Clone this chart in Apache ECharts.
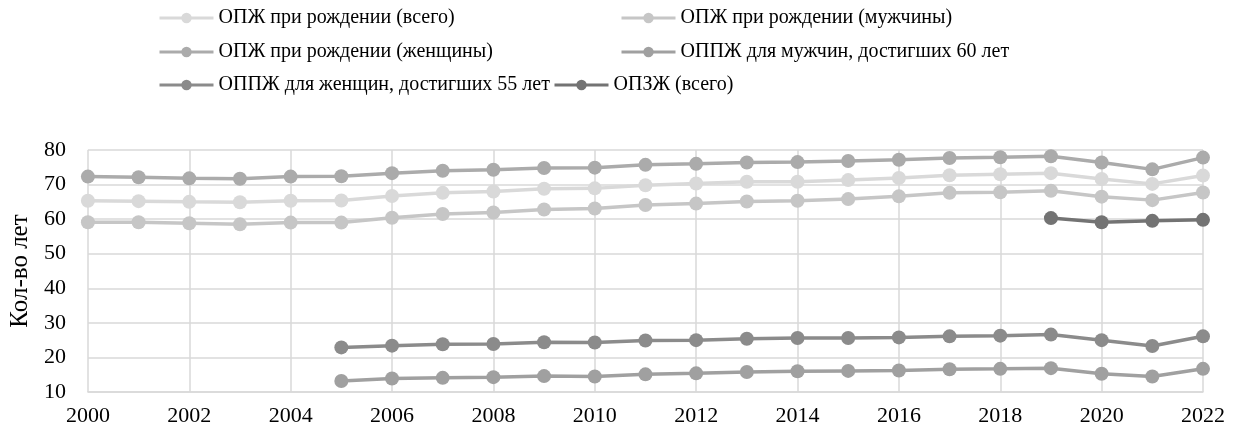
<!DOCTYPE html>
<html>
<head>
<meta charset="utf-8">
<script src="https://cdn.jsdelivr.net/npm/echarts@6/dist/echarts.min.js"></script>
<style>html,body{margin:0;padding:0;background:#fff}#c{width:1242px;height:432px}</style>
</head>
<body>
<div id="c"></div>
<script>
var years = ['2000','2001','2002','2003','2004','2005','2006','2007','2008','2009','2010','2011','2012','2013','2014','2015','2016','2017','2018','2019','2020','2021','2022'];
var seriesNames = ['ОПЖ при рождении (всего)','ОПЖ при рождении (мужчины)','ОПЖ при рождении (женщины)','ОППЖ для мужчин, достигших 60 лет','ОППЖ для женщин, достигших 55 лет','ОПЗЖ (всего)'];
var lifeTotal = [65.3,65.2,65.0,64.9,65.3,65.4,66.7,67.6,68.0,68.8,68.9,69.8,70.3,70.8,70.8,71.3,71.9,72.7,73.0,73.3,71.6,70.2,72.6];
var lifeMale = [59.1,59.1,58.8,58.5,59.0,59.0,60.4,61.5,61.9,62.8,63.1,64.1,64.5,65.1,65.3,65.8,66.6,67.6,67.8,68.2,66.5,65.5,67.7];
var lifeFemale = [72.3,72.1,71.8,71.7,72.3,72.4,73.3,74.0,74.3,74.8,74.9,75.7,76.0,76.4,76.5,76.8,77.2,77.7,77.9,78.2,76.4,74.4,77.8];
var remainMen60 = [null,null,null,null,null,13.2,13.9,14.1,14.3,14.6,14.5,15.1,15.4,15.8,16.0,16.1,16.2,16.6,16.7,16.9,15.3,14.5,16.7];
var remainWomen55 = [null,null,null,null,null,22.9,23.4,23.8,23.9,24.4,24.3,24.9,25.0,25.4,25.6,25.6,25.8,26.1,26.3,26.6,25.0,23.3,26.1];
var healthyTotal = [null,null,null,null,null,null,null,null,null,null,null,null,null,null,null,null,null,null,null,60.3,59.1,59.5,59.8];
var yTicks = [10,20,30,40,50,60,70,80];

var colors = ['#d9d9d9','#c6c6c6','#ababab','#a0a0a0','#8b8b8b','#737373'];
var dataSets = [lifeTotal, lifeMale, lifeFemale, remainMen60, remainWomen55, healthyTotal];
var legendPos = [[158,8],[620,8],[158,42],[620,42],[158,75],[553,75]];
var font = '"Liberation Serif","Times New Roman",serif';

var legends = seriesNames.map(function(n,i){
  return {
    data:[n], left:legendPos[i][0], top:legendPos[i][1], padding:0,
    itemWidth:54, itemHeight:13, itemGap:0,
    lineStyle:{width:3},
    textStyle:{fontFamily:font, fontSize:20, color:'#000'},
    selectedMode:false
  };
});

var series = seriesNames.map(function(n,i){
  return {
    name:n, type:'line', data:dataSets[i],
    symbol:'circle', symbolSize:14,
    lineStyle:{width:3.5, color:colors[i]},
    itemStyle:{color:colors[i]},
    connectNulls:false, animation:false
  };
});

var chart = echarts.init(document.getElementById('c'), null, {renderer:'canvas'});
chart.setOption({
  animation:false,
  legend: legends,
  grid:{left:87, right:39, top:150, bottom:40, containLabel:false},
  xAxis:{
    type:'category', data:years, boundaryGap:false,
    axisLine:{lineStyle:{color:'#d9d9d9', width:1.5}},
    axisTick:{show:false},
    axisLabel:{interval:1, fontFamily:font, fontSize:22, color:'#000', margin:13},
    splitLine:{show:true, interval:1, lineStyle:{color:'#d9d9d9', width:1.5}}
  },
  yAxis:{
    type:'value', min:yTicks[0], max:yTicks[yTicks.length-1], interval:10,
    name:'Кол-во лет', nameLocation:'middle', nameRotate:90, nameGap:53,
    nameTextStyle:{fontFamily:font, fontSize:25, color:'#000'},
    axisLine:{show:false}, axisTick:{show:false},
    axisLabel:{fontFamily:font, fontSize:22, color:'#000', margin:22, padding:[4,0,0,0]},
    splitLine:{lineStyle:{color:'#d9d9d9', width:1.5}}
  },
  series: series
});
</script>
</body>
</html>
